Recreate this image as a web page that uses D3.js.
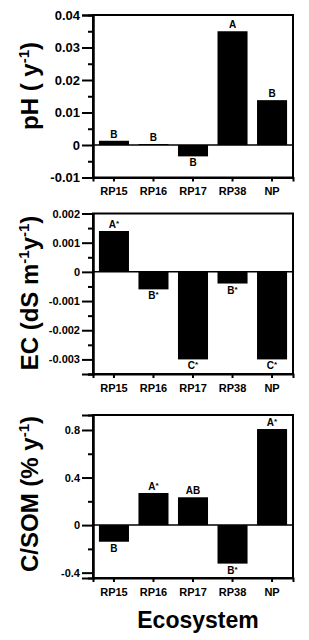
<!DOCTYPE html>
<html>
<head>
<meta charset="utf-8">
<script src="https://cdn.jsdelivr.net/npm/d3@7"></script>
<style>
  body { margin: 0; background: #fff; }
  text { font-family: "Liberation Sans", Arial, sans-serif; font-weight: bold; }
</style>
</head>
<body>
<div id="container"></div>
<script>
let w = 309;
let h = 640;

// data
const categories = ["RP15", "RP16", "RP17", "RP38", "NP"];

const phValues = [0.0013, 0.0003, -0.0035, 0.035, 0.0138];
const phLetters = ["B", "B", "B", "A", "B"];
const phTicks = [-0.01, 0, 0.01, 0.02, 0.03, 0.04];
const phTickLabels = ["-0.01", "0", "0.01", "0.02", "0.03", "0.04"];
const phMinor = [-0.005, 0.005, 0.015, 0.025, 0.035];

const ecValues = [0.0014, -0.0006, -0.003, -0.0004, -0.003];
const ecLetters = ["A*", "B*", "C*", "B*", "C*"];
const ecTicks = [-0.003, -0.002, -0.001, 0, 0.001, 0.002];
const ecTickLabels = ["-0.003", "-0.002", "-0.001", "0", "0.001", "0.002"];
const ecMinor = [-0.0035, -0.0025, -0.0015, -0.0005, 0.0005, 0.0015];

const somValues = [-0.14, 0.27, 0.234, -0.324, 0.808];
const somLetters = ["B", "A*", "AB", "B*", "A*"];
const somTicks = [-0.4, 0, 0.4, 0.8];
const somTickLabels = ["-0.4", "0", "0.4", "0.8"];
const somMinor = [-0.2, 0.2, 0.6];

let left = 93, right = 293;

let viz = d3.select("#container")
  .append("svg")
    .attr("width", w)
    .attr("height", h)
    .style("background-color", "white");

let xScale = d3.scaleBand()
  .domain(categories)
  .range([left, right])
  .paddingInner(0.24)
  .paddingOuter(0.15);

function drawPanel(cfg){
  let g = viz.append("g");
  let yScale = d3.scaleLinear().domain(cfg.domain).range([cfg.bottom, cfg.top]);
  let rows = categories.map((c, i) => ({name: c, value: cfg.values[i], letter: cfg.letters[i]}));

  // bars
  g.selectAll(".bar").data(rows).enter()
    .append("rect")
      .attr("x", d => xScale(d.name))
      .attr("width", xScale.bandwidth())
      .attr("y", d => yScale(Math.max(0, d.value)))
      .attr("height", d => Math.abs(yScale(d.value) - yScale(0)))
      .attr("fill", "black");

  // letters over / under bars
  let lab = g.selectAll(".lab").data(rows).enter()
    .append("text")
      .attr("x", d => xScale(d.name) + xScale.bandwidth() / 2)
      .attr("y", d => d.value >= 0 ? yScale(d.value) - 3 : yScale(d.value) + 10)
      .attr("text-anchor", "middle")
      .attr("font-size", 10);
  lab.append("tspan").text(d => d.letter.replace("*", ""));
  lab.filter(d => d.letter.indexOf("*") >= 0)
    .append("tspan").text("*").attr("font-size", 8).attr("dy", -2);

  // zero line
  g.append("line")
    .attr("x1", left).attr("x2", right)
    .attr("y1", yScale(0)).attr("y2", yScale(0))
    .attr("stroke", "black").attr("stroke-width", 1.5);

  // frame
  g.append("rect")
    .attr("x", left).attr("y", cfg.top)
    .attr("width", right - left).attr("height", cfg.bottom - cfg.top)
    .attr("fill", "none").attr("stroke", "black").attr("stroke-width", 2);

  // y axis major
  let yAxis = g.append("g")
    .attr("transform", "translate(" + left + ",0)")
    .call(d3.axisLeft(yScale)
      .tickValues(cfg.ticks)
      .tickFormat((d, i) => cfg.tickLabels[i])
      .tickSize(11).tickPadding(2));
  yAxis.selectAll("text").attr("font-size", cfg.tickFont).attr("font-family", null);

  // y axis minor
  g.append("g")
    .attr("transform", "translate(" + left + ",0)")
    .call(d3.axisLeft(yScale).tickValues(cfg.minor).tickFormat("").tickSize(5));

  // x axis
  let xAxis = g.append("g")
    .attr("transform", "translate(0," + cfg.bottom + ")")
    .call(d3.axisBottom(xScale).tickSize(4).tickPadding(6));
  xAxis.selectAll("text").attr("font-size", 11).attr("font-family", null);

  g.selectAll(".domain").attr("stroke-width", 2);
  g.selectAll(".tick line").attr("stroke-width", 2);

  // y title
  let t = g.append("text")
    .attr("transform", "translate(38," + cfg.titleY + ") rotate(-90)")
    .attr("text-anchor", "middle")
    .attr("font-size", 24);
  t.append("tspan").text(cfg.title[0]);
  t.append("tspan").text("-1").attr("font-size", 15).attr("dy", -9);
  if (cfg.title.length > 2) {
    t.append("tspan").text(cfg.title[1]).attr("font-size", 24).attr("dy", 9);
    t.append("tspan").text("-1").attr("font-size", 15).attr("dy", -9);
    t.append("tspan").text(cfg.title[2]).attr("font-size", 24).attr("dy", 9);
  } else {
    t.append("tspan").text(cfg.title[1]).attr("font-size", 24).attr("dy", 9);
  }
}

drawPanel({
  values: phValues, letters: phLetters,
  domain: [-0.01, 0.04], top: 15, bottom: 177.5,
  ticks: phTicks, tickLabels: phTickLabels, minor: phMinor, tickFont: 13,
  title: ["pH ( y", ")"], titleY: 86
});

drawPanel({
  values: ecValues, letters: ecLetters,
  domain: [-0.0035, 0.002], top: 213.5, bottom: 374,
  ticks: ecTicks, tickLabels: ecTickLabels, minor: ecMinor, tickFont: 11,
  title: ["EC (dS m", "y", ")"], titleY: 293
});

drawPanel({
  values: somValues, letters: somLetters,
  domain: [-0.445, 0.926], top: 415, bottom: 578,
  ticks: somTicks, tickLabels: somTickLabels, minor: somMinor, tickFont: 11,
  title: ["C/SOM (% y", ")"], titleY: 494
});

viz.append("text")
  .attr("x", 198)
  .attr("y", 628)
  .attr("text-anchor", "middle")
  .attr("font-size", 23)
  .text("Ecosystem");
</script>
</body>
</html>
